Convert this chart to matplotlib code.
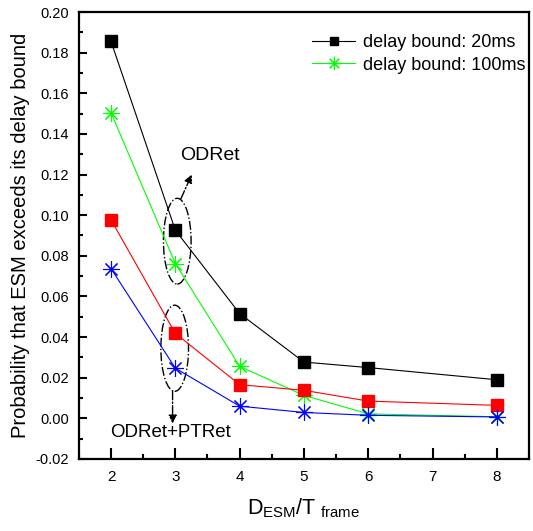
import matplotlib
matplotlib.use("Agg")
import matplotlib.pyplot as plt
from matplotlib.patches import Ellipse
from matplotlib.ticker import MultipleLocator

plt.rcParams['font.family'] = ['Liberation Sans', 'DejaVu Sans']
plt.rcParams['mathtext.fontset'] = 'custom'
plt.rcParams['mathtext.rm'] = 'Liberation Sans'

# Ratio of ESM delay bound to frame length
x_ratio = [2, 3, 4, 5, 6, 8]

# ODRet scheme
odret_20ms = [0.1855, 0.0926, 0.0516, 0.0277, 0.0250, 0.0190]
odret_100ms = [0.1504, 0.0762, 0.0256, 0.0113, 0.0022, 0.0008]

# ODRet+PTRet scheme
odptret_20ms = [0.0977, 0.0418, 0.0166, 0.0138, 0.0085, 0.0064]
odptret_100ms = [0.0737, 0.0247, 0.0060, 0.0029, 0.0015, 0.0007]

fig = plt.figure(figsize=(5.33, 5.31), dpi=100)
ax = fig.add_axes([0.148, 0.1356, 0.8445, 0.8418])

star = (8, 2, 0)
lw = 0.8
l1, = ax.plot(x_ratio, odret_20ms, color='black', lw=lw, marker='s', markersize=8,
              label='delay bound: 20ms')
l2, = ax.plot(x_ratio, odret_100ms, color='#00ff00', lw=lw, marker=star, markersize=12,
              markeredgewidth=0.8, label='delay bound: 100ms')
ax.plot(x_ratio, odptret_20ms, color='#ff0000', lw=lw, marker='s', markersize=8.5)
ax.plot(x_ratio, odptret_100ms, color='#0000ff', lw=lw, marker=star, markersize=12,
        markeredgewidth=0.8)

ax.set_xlim(1.5, 8.5)
ax.set_ylim(-0.02, 0.20)
ax.xaxis.set_major_locator(MultipleLocator(1))
ax.xaxis.set_minor_locator(MultipleLocator(0.5))
ax.yaxis.set_major_locator(MultipleLocator(0.02))
ax.yaxis.set_minor_locator(MultipleLocator(0.01))
ax.set_xticks([2, 3, 4, 5, 6, 7, 8])
ax.set_yticks([-0.02 + 0.02 * i for i in range(12)])
ax.set_yticklabels(['%.2f' % (-0.02 + 0.02 * i) for i in range(12)])
ax.tick_params(axis='x', which='major', direction='in', length=8, width=1.5, pad=8, labelsize=11)
ax.tick_params(axis='x', which='minor', direction='in', length=3.6, width=1.5)
ax.tick_params(axis='y', which='major', direction='in', length=5.5, width=1.5, pad=7, labelsize=10.5)
ax.tick_params(axis='y', which='minor', direction='in', length=3, width=1.5)
for s in ax.spines.values():
    s.set_linewidth(1.6)

ax.set_ylabel('Probability that ESM exceeds its delay bound', fontsize=14.5, labelpad=4)
ax.set_xlabel(r'$\mathrm{D_{ESM}/T_{\ frame}}$', fontsize=15.5, labelpad=9)

# Group markers for each scheme
ax.add_patch(Ellipse((3.03, 0.0872), 0.43, 0.0422, fill=False, ls='-.', lw=1.0, color='black'))
ax.add_patch(Ellipse((2.99, 0.0345), 0.43, 0.0424, fill=False, ls='-.', lw=1.0, color='black'))

ax.annotate('', xy=(3.256, 0.1200), xytext=(3.085, 0.108),
            arrowprops=dict(arrowstyle='-|>', ls='-.', lw=1.0, color='black',
                            mutation_scale=12, shrinkA=0, shrinkB=0))
ax.annotate('', xy=(2.957, -0.0025), xytext=(2.957, 0.0135),
            arrowprops=dict(arrowstyle='-|>', ls='-.', lw=1.0, color='black',
                            mutation_scale=12, shrinkA=0, shrinkB=0))
ax.text(3.535, 0.1295, 'ODRet', fontsize=14, ha='center', va='center')
ax.text(2.93, -0.0072, 'ODRet+PTRet', fontsize=13.5, ha='center', va='center')

ax.legend(handles=[l1, l2], loc='upper left', bbox_to_anchor=(0.518, 0.95),
          frameon=False, fontsize=13, handlelength=2.4, handletextpad=0.4,
          labelspacing=0.3, borderpad=0, borderaxespad=0, markerscale=0.8)

fig.savefig('out.png', dpi=100)
